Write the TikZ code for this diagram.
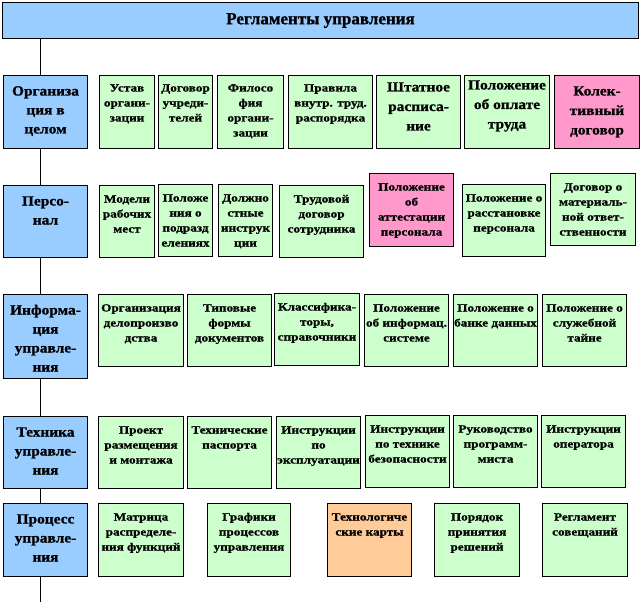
\documentclass[tikz,border=0pt]{standalone}
\usepackage{fontspec}
\setmainfont{Liberation Serif}[BoldFeatures={FakeBold=1}]
\newfontfamily\smf{Liberation Serif}[FakeStretch=1.2, BoldFeatures={FakeBold=1}]
\newfontfamily\lgf{Liberation Serif}[FakeStretch=1.1, BoldFeatures={FakeBold=1}]
\definecolor{blueC}{HTML}{99CCFF}
\definecolor{greenC}{HTML}{CCFFCC}
\definecolor{pinkC}{HTML}{FF99CC}
\definecolor{orangeC}{HTML}{FFCC99}
% width, height, first baseline, text
\newcommand{\bxt}[4]{\parbox[t][#2pt][t]{#1pt}{\centering\rule{0pt}{#3pt}#4}}
\tikzset{
  box/.style={draw=black, line width=1pt, inner sep=0pt, anchor=north west},
  sbox/.style={box, fill=greenC, font=\smf\bfseries\fontsize{11}{15}\selectfont},
  lbox/.style={box, fill=blueC, font=\lgf\bfseries\fontsize{14}{19}\selectfont},
  mbox/.style={box, fill=greenC, font=\lgf\bfseries\fontsize{14}{19.5}\selectfont},
  vline/.style={draw=black, line width=1pt},
}
\begin{document}
\begin{tikzpicture}[x=1pt,y=-1pt]
\useasboundingbox (0,0) rectangle (642,604);
\coordinate (vx) at (40,0);
\coordinate (bot) at (40,602);
% title
\node[box, fill=blueC, minimum width=636pt, minimum height=36pt,
      font=\rmfamily\bfseries\fontsize{17}{19}\selectfont] (title) at (2,2) {Регламенты управления};
% row 1
\node[lbox] (L1) at (3,75) {\bxt{84}{73}{20}{Организа\\ция в\\целом}};
\node[sbox] (a1) at (99,75) {\bxt{55}{73}{16}{Устав\\органи-\\зации}};
\node[sbox] (a2) at (158,75) {\bxt{54}{73}{16}{Договор\\учреди-\\телей}};
\node[sbox] (a3) at (217,75) {\bxt{66}{73}{16}{Филосо\\фия\\органи-\\зации}};
\node[sbox] (a4) at (288,75) {\bxt{84}{73}{16}{Правила\\внутр. труд.\\распорядка}};
\node[mbox] (a5) at (376,75) {\bxt{84}{73}{16}{Штатное\\расписа-\\ние}};
\node[mbox] (a6) at (464,75) {\bxt{85}{73}{14}{Положение\\об оплате\\труда}};
\node[mbox, fill=pinkC] (a7) at (554,75) {\bxt{85}{73}{20}{Колек-\\тивный\\договор}};
% row 2
\node[lbox] (L2) at (3,185) {\bxt{84}{72}{20}{Персо-\\нал}};
\node[sbox] (b1) at (99,185) {\bxt{55}{72}{17}{Модели\\рабочих\\мест}};
\node[sbox] (b2) at (158,184) {\bxt{54}{72}{17}{Положе\\ния о\\подразд\\елениях}};
\node[sbox] (b3) at (218,184) {\bxt{54}{72}{17}{Должно\\стные\\инструк\\ции}};
\node[sbox] (b4) at (279,185) {\bxt{84}{72}{17}{Трудовой\\договор\\сотрудника}};
\node[sbox, fill=pinkC] (b5) at (369,173) {\bxt{84}{73}{17}{Положение\\об\\аттестации\\персонала}};
\node[sbox] (b6) at (462,184) {\bxt{83}{72}{17}{Положение о\\расстановке\\персонала}};
\node[sbox] (b7) at (550,173) {\bxt{85}{72}{17}{Договор о\\материаль-\\ной ответ-\\ственности}};
% row 3
\node[lbox] (L3) at (3,294) {\bxt{84}{84}{20}{Информа-\\ция\\управле-\\ния}};
\node[sbox] (c1) at (98,294) {\bxt{85}{72}{17}{Организация\\делопроизво\\дства}};
\node[sbox] (c2) at (187,294) {\bxt{84}{72}{17}{Типовые\\формы\\документов}};
\node[sbox] (c3) at (274,293) {\bxt{85}{72}{17}{Классифика-\\торы,\\справочники}};
\node[sbox] (c4) at (364,294) {\bxt{84}{72}{17}{Положение\\об информац.\\системе}};
\node[sbox] (c5) at (453,294) {\bxt{84}{72}{17}{Положение о\\банке данных}};
\node[sbox] (c6) at (542,294) {\bxt{84}{72}{17}{Положение о\\служебной\\тайне}};
% row 4
\node[lbox] (L4) at (3,416) {\bxt{84}{72}{20}{Техника\\управле-\\ния}};
\node[sbox] (d1) at (98,416) {\bxt{85}{72}{17}{Проект\\размещения\\и монтажа}};
\node[sbox] (d2) at (187,416) {\bxt{84}{72}{17}{Технические\\паспорта}};
\node[sbox] (d3) at (276,416) {\bxt{84}{72}{17}{Инструкции\\по\\эксплуатации}};
\node[sbox] (d4) at (365,415) {\bxt{84}{72}{17}{Инструкции\\по технике\\безопасности}};
\node[sbox] (d5) at (453,415) {\bxt{84}{72}{17}{Руководство\\программ-\\миста}};
\node[sbox] (d6) at (541,415) {\bxt{84}{72}{17}{Инструкции\\оператора}};
% row 5
\node[lbox] (L5) at (3,503) {\bxt{84}{73}{20}{Процесс\\управле-\\ния}};
\node[sbox] (e1) at (98,503) {\bxt{85}{73}{17}{Матрица\\распределе-\\ния функций}};
\node[sbox] (e2) at (207,503) {\bxt{83}{73}{17}{Графики\\процессов\\управления}};
\node[sbox, fill=orangeC] (e3) at (327,503) {\bxt{84}{73}{17}{Технологиче\\ские карты}};
\node[sbox] (e4) at (434,503) {\bxt{85}{73}{17}{Порядок\\принятия\\решений}};
\node[sbox] (e5) at (542,503) {\bxt{85}{73}{17}{Регламент\\совещаний}};
% vertical connector
\draw[vline] (title.south -| vx) -- (L1.north -| vx);
\draw[vline] (L1.south -| vx) -- (L2.north -| vx);
\draw[vline] (L2.south -| vx) -- (L3.north -| vx);
\draw[vline] (L3.south -| vx) -- (L4.north -| vx);
\draw[vline] (L4.south -| vx) -- (L5.north -| vx);
\draw[vline] (L5.south -| vx) -- (bot);
\end{tikzpicture}
\end{document}
